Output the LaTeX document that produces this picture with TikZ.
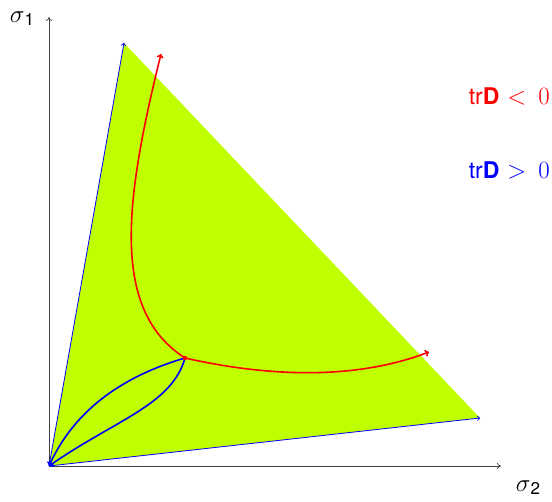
\documentclass[tikz,border=0pt]{standalone}
\usepackage{fontspec}
\setmainfont{TeX Gyre Heros}
\usetikzlibrary{arrows.meta}
\definecolor{lime}{RGB}{192,255,0}
\newcommand{\sgm}[1]{$\sigma$\raisebox{-3pt}{\fontsize{17}{20}\selectfont #1}}
\begin{document}
\begin{tikzpicture}[x=1pt,y=-1pt,
  axis/.style={draw=black!75,line width=0.7pt,-{To[length=4pt,width=6pt]}},
  edge/.style={draw=blue,line width=0.8pt,-{To[length=3pt,width=5pt]}},
  redc/.style={draw=red,line width=1.6pt,-{To[length=4pt,width=7pt]}},
  bluec/.style={draw=blue,line width=1.6pt,-{To[length=4pt,width=7pt]}},
  lbl/.style={font=\fontsize{23}{26}\selectfont,inner sep=0pt}]
\useasboundingbox (0,0) rectangle (552,502);
\coordinate (O) at (49,466);
\coordinate (T) at (124,43);
\coordinate (R) at (480,418);
\coordinate (P) at (185,358);
\coordinate (Y) at (49,17);
\coordinate (X) at (501,466);
\coordinate (RT) at (161,54);
\coordinate (RR) at (429,352);
\fill[lime] (O) -- (T) -- (R) -- cycle;
\draw[axis] (O) -- (Y);
\draw[axis] (O) -- (X);
\draw[edge] (O) -- (T);
\draw[edge] (O) -- (R);
\draw[redc] (P) .. controls (110,310) and (125,200) .. (RT);
\draw[redc] (P) .. controls (260,375) and (350,382) .. (RR);
\draw[bluec] (P) .. controls (110,380) and (70,420) .. (O);
\draw[bluec] (P) .. controls (172,405) and (115,420) .. (O);
\fill[red] (P) circle (2.2pt);
\node[lbl] (s1) at (22,19) {\sgm{1}};
\node[lbl] (s2) at (528,488) {\sgm{2}};
\node[lbl,anchor=east,text=red] (neg) at (550,96) {tr\textbf{D}\hspace{8pt}$<$\hspace{12pt}$0$};
\node[lbl,anchor=east,text=blue] (pos) at (550,170) {tr\textbf{D}\hspace{8pt}$>$\hspace{12pt}$0$};
\end{tikzpicture}
\end{document}
